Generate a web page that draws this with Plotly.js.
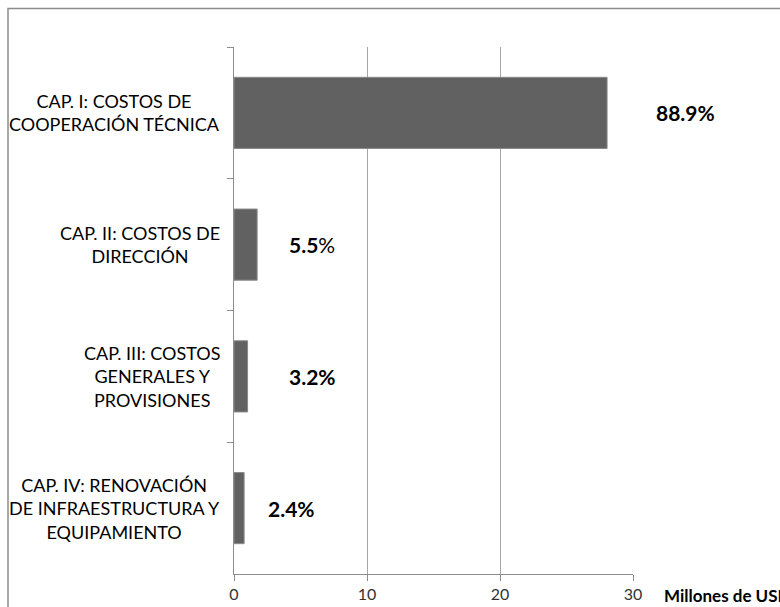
<!DOCTYPE html>
<html>
<head>
<meta charset="utf-8">
<script src="https://cdn.plot.ly/plotly-3.0.1.min.js"></script>
<style>html,body{margin:0;padding:0;background:#fff;}#chart{width:780px;height:607px;}</style>
</head>
<body>
<div id="chart"></div>
<script>
const categories = [
  "CAP. I: COSTOS DE<br>COOPERACIÓN TÉCNICA",
  "CAP. II: COSTOS DE<br>DIRECCIÓN",
  "CAP. III: COSTOS<br>GENERALES Y<br>PROVISIONES",
  "CAP. IV: RENOVACIÓN<br>DE INFRAESTRUCTURA Y<br>EQUIPAMIENTO"
];
const values = [28.05, 1.74, 1.02, 0.76];
const percentLabels = ["<b>88.9%</b>", "<b>5.5</b>%", "<b>3.2%</b>", "<b>2.4%</b>"];
const xTicks = [0, 10, 20, 30];
const xAxisLabel = "Millones de USD";

const FONT = "Lato, 'Open Sans', sans-serif";
const XMAX = 30;
const labelX = [31.6, 3.95, 4.0, 2.4]; // label start positions (layout, in axis units)

const annotations = [];
categories.forEach((c, i) => {
  annotations.push({
    text: c, xref: "paper", yref: "y", x: -0.03, y: i,
    xanchor: "right", yanchor: "middle", align: "center", showarrow: false,
    font: {family: FONT, size: 18, color: "#000"}
  });
  annotations.push({
    text: percentLabels[i], xref: "paper", yref: "y", x: labelX[i] / XMAX, y: i,
    xanchor: "left", yanchor: "middle", showarrow: false,
    font: {family: FONT, size: 21, color: "#000"}
  });
});
annotations.push({
  text: "<b>" + xAxisLabel + "</b>", xref: "paper", yref: "paper",
  x: (662 - 234) / 399, y: -0.04, xanchor: "left", yanchor: "middle",
  showarrow: false, font: {family: FONT, size: 17, color: "#000"}
});

const trace = {
  type: "bar", orientation: "h", x: values, y: categories,
  width: 0.54, marker: {color: "#616161", line: {color: "#8a8a8a", width: 1}},
  hoverinfo: "skip"
};

const layout = {
  width: 780, height: 607,
  margin: {l: 234, r: 147, t: 47, b: 33},
  paper_bgcolor: "#fff", plot_bgcolor: "#fff",
  showlegend: false,
  xaxis: {
    range: [0, XMAX], tickvals: xTicks, showgrid: true, gridcolor: "#a6a6a6", gridwidth: 1,
    zeroline: false, showline: true, linecolor: "#8c8c8c", linewidth: 1,
    ticks: "outside", ticklen: 6, tickcolor: "#8c8c8c",
    tickfont: {family: FONT, size: 16, color: "#333"}, fixedrange: true
  },
  yaxis: {
    type: "category", categoryarray: categories, autorange: "reversed",
    showticklabels: false, showgrid: false, zeroline: false,
    showline: true, linecolor: "#8c8c8c", linewidth: 1,
    ticks: "outside", ticklen: 6, tickcolor: "#8c8c8c", tickson: "boundaries",
    fixedrange: true
  },
  annotations: annotations,
  shapes: [{
    type: "rect", xref: "paper", yref: "paper",
    x0: (8 - 234) / 399, x1: (800 - 234) / 399,
    y0: (574 - 640) / 527, y1: (574 - 8.5) / 527,
    line: {color: "#8c8c8c", width: 1.5}, layer: "below"
  }]
};

Plotly.newPlot("chart", [trace], layout, {displayModeBar: false, staticPlot: true});
</script>
</body>
</html>
